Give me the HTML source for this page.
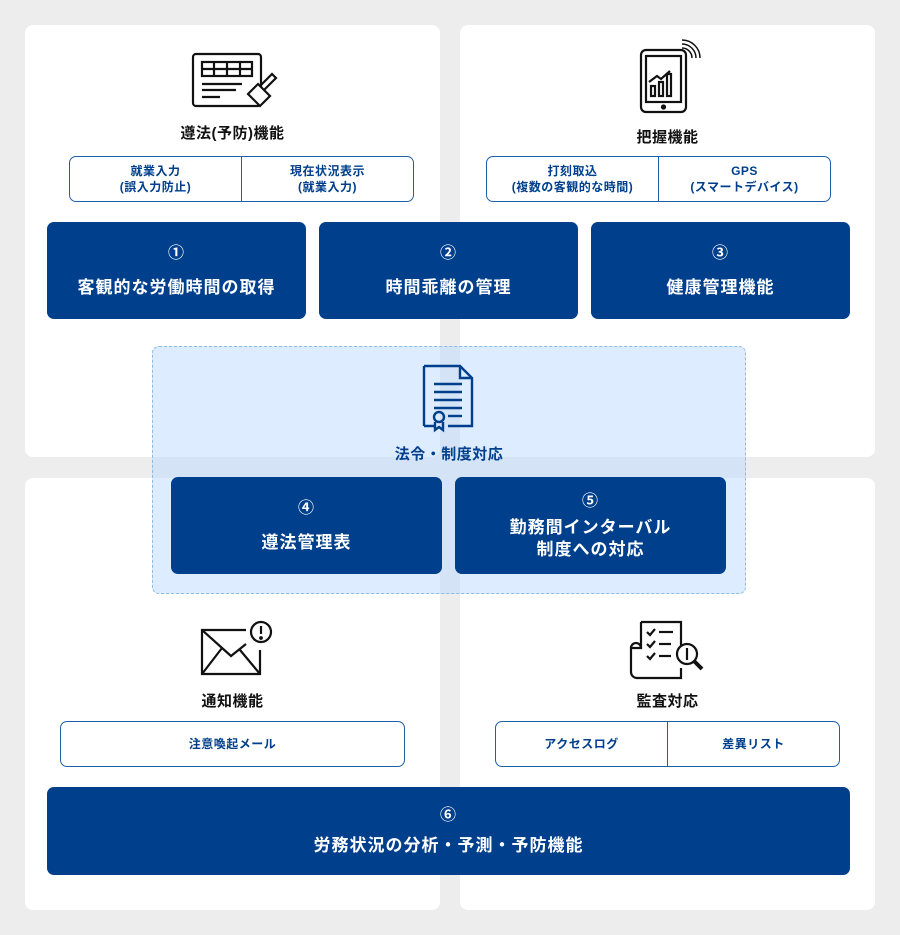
<!DOCTYPE html>
<html><head><meta charset="utf-8"><style>
*{margin:0;padding:0;box-sizing:border-box}
body{width:900px;height:935px;background:#ededed;position:relative;overflow:hidden;font-family:"Liberation Sans","Noto Sans CJK JP",sans-serif}
.a{position:absolute}
.p{position:absolute;background:#fff;border-radius:8px}
.nb{position:absolute;background:#003f8c;border-radius:7px;color:#fff;font-weight:bold;display:flex;flex-direction:column;align-items:center;justify-content:center;text-align:center;font-size:17px;line-height:24px;letter-spacing:1px}
.nb .n{font-size:16px;margin-bottom:10px}
.sb{position:absolute;border:1.5px solid #1f5fa8;border-radius:7px;display:flex;color:#003f8c;font-weight:bold;font-size:12px;line-height:16px;background:#fff;letter-spacing:0.5px}
.sb div{flex:1;display:flex;align-items:center;justify-content:center;text-align:center}
.sb div+div{border-left:1.5px solid #1f5fa8}
.t{position:absolute;font-weight:bold;font-size:15px;color:#111;text-align:center;letter-spacing:0.5px}
</style></head><body>
<div class="p" style="left:25px;top:25px;width:415px;height:432px"></div>
<div class="p" style="left:460px;top:25px;width:415px;height:432px"></div>
<div class="p" style="left:25px;top:478px;width:415px;height:432px"></div>
<div class="p" style="left:460px;top:478px;width:415px;height:432px"></div>

<svg class="a" style="left:190px;top:50px" width="95" height="62" viewBox="0 0 95 62" fill="none" stroke="#111" stroke-width="2.2">
<rect x="3" y="4" width="68" height="52" rx="3"/><rect x="12" y="12" width="50" height="14"/><line x1="12" y1="19" x2="62" y2="19"/><line x1="24" y1="12" x2="24" y2="26"/><line x1="37" y1="12" x2="37" y2="26"/><line x1="50" y1="12" x2="50" y2="26"/><line x1="12" y1="34" x2="52" y2="34"/><line x1="12" y1="40" x2="46" y2="40"/><line x1="12" y1="47" x2="30" y2="47"/>
<path d="M58 44 l10 -10 l12 12 l-10 10 z" fill="#fff"/><path d="M70 36 l12 -12 l4 4 l-12 12"/></svg>
<div class="t" style="left:25px;top:122px;width:415px">遵法(予防)機能</div>
<div class="sb" style="left:69px;top:156px;width:345px;height:46px"><div>就業入力<br>(誤入力防止)</div><div>現在状況表示<br>(就業入力)</div></div>

<svg class="a" style="left:636px;top:38px" width="70" height="80" viewBox="0 0 70 80" fill="none" stroke="#111" stroke-width="2.2">
<rect x="5" y="12" width="45" height="62" rx="5"/><rect x="10" y="18" width="35" height="46"/><circle cx="27.5" cy="69" r="1.5" fill="#111"/>
<rect x="15" y="48" width="4" height="10"/><rect x="23" y="44" width="4" height="14"/><rect x="31" y="36" width="4" height="22"/><path d="M13 44 l8-6 4 3 9-8"/>
<path d="M46 6 a14 14 0 0 1 14 14 M46 2 a18 18 0 0 1 18 18 M46 10 a10 10 0 0 1 10 10" stroke-width="1.5"/></svg>
<div class="t" style="left:460px;top:126px;width:415px">把握機能</div>
<div class="sb" style="left:486px;top:156px;width:345px;height:46px"><div>打刻取込<br>(複数の客観的な時間)</div><div>GPS<br>(スマートデバイス)</div></div>

<div class="nb" style="left:47px;top:222px;width:259px;height:97px"><span class="n">①</span>客観的な労働時間の取得</div>
<div class="nb" style="left:319px;top:222px;width:259px;height:97px"><span class="n">②</span>時間乖離の管理</div>
<div class="nb" style="left:591px;top:222px;width:259px;height:97px"><span class="n">③</span>健康管理機能</div>

<div class="a" style="left:152px;top:346px;width:594px;height:248px;background:rgba(190,218,255,0.5);border:1.3px dashed #8cbbe6;border-radius:7px"></div>
<svg class="a" style="left:420px;top:362px" width="58" height="72" viewBox="0 0 58 72" fill="none" stroke="#003f8c" stroke-width="2.4">
<path d="M4 4 h36 l12 12 v48 h-24 M14 64 h-10 z M4 4 v60"/><path d="M40 4 v12 h12"/><line x1="14" y1="22" x2="42" y2="22"/><line x1="14" y1="30" x2="42" y2="30"/><line x1="14" y1="38" x2="42" y2="38"/><line x1="14" y1="46" x2="42" y2="46"/><line x1="28" y1="54" x2="42" y2="54"/><circle cx="19" cy="55" r="5"/><path d="M15 60 v8 l4-3 4 3 v-8"/></svg>
<div class="t" style="left:152px;top:443px;width:594px;color:#003f8c">法令・制度対応</div>
<div class="nb" style="left:171px;top:477px;width:271px;height:97px"><span class="n">④</span>遵法管理表</div>
<div class="nb" style="left:455px;top:477px;width:271px;height:97px;line-height:22px"><span class="n" style="margin-bottom:4px">⑤</span>勤務間インターバル<br>制度への対応</div>

<svg class="a" style="left:198px;top:618px" width="78" height="62" viewBox="0 0 78 62" fill="none" stroke="#111" stroke-width="2.2">
<path d="M48 12 H4 V56 H62 V32"/><path d="M4 12 L33 38 L48 26 M4 56 L24 30 M62 56 L42 32"/><circle cx="63" cy="14" r="10"/><line x1="63" y1="8" x2="63" y2="16"/><circle cx="63" cy="20" r="0.8" fill="#111"/></svg>
<div class="t" style="left:25px;top:690px;width:415px">通知機能</div>
<div class="sb" style="left:60px;top:721px;width:345px;height:46px"><div>注意喚起メール</div></div>

<svg class="a" style="left:625px;top:618px" width="92" height="62" viewBox="0 0 92 62" fill="none" stroke="#111" stroke-width="2.2">
<path d="M16 4 h40 v24 M56 50 v10 H12 a6 6 0 0 1 -6 -6 V30 h10 V4"/><path d="M6 30 a5 5 0 0 1 10 0"/>
<path d="M22 14 l3 3 5-6 M22 26 l3 3 5-6 M22 38 l3 3 5-6"/><line x1="34" y1="14" x2="48" y2="14"/><line x1="34" y1="26" x2="46" y2="26"/><line x1="34" y1="38" x2="46" y2="38"/>
<circle cx="62" cy="36" r="10"/><line x1="62" y1="30" x2="62" y2="42"/><path d="M69 43 l8 8" stroke-width="4"/></svg>
<div class="t" style="left:460px;top:690px;width:415px">監査対応</div>
<div class="sb" style="left:495px;top:721px;width:345px;height:46px"><div>アクセスログ</div><div>差異リスト</div></div>

<div class="nb" style="left:47px;top:787px;width:803px;height:88px"><span class="n" style="margin-bottom:6px">⑥</span>労務状況の分析・予測・予防機能</div>
</body></html>
